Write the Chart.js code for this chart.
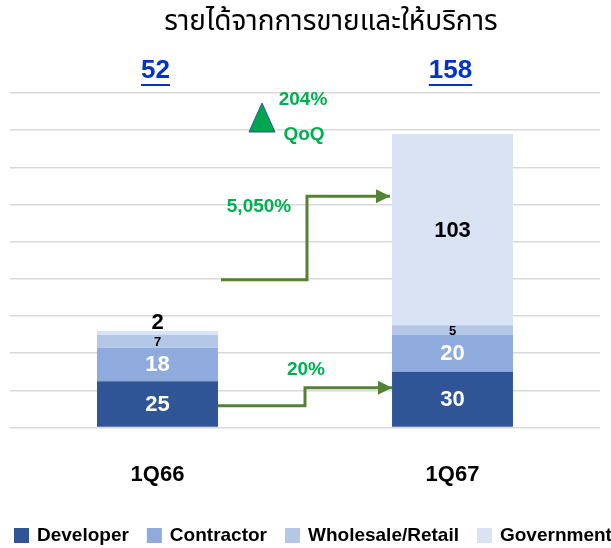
<!DOCTYPE html>
<html lang="th">
<head>
<meta charset="UTF-8">
<title>รายได้จากการขายและให้บริการ</title>
<style>
  body { margin: 0; background: #fff; }
  canvas { display: block; }
</style>
<script src="https://cdn.jsdelivr.net/npm/chart.js"></script>
</head>
<body>
<canvas id="revChart" width="611" height="548"></canvas>
<script>
const categories = ['1Q66', '1Q67'];
const developer = [25, 30];
const contractor = [18, 20];
const wholesale = [7, 5];
const government = [2, 103];
const totals = [52, 158];
const growthLabels = ['20%', '5,050%'];
const qoqLabel = '204%';

const titleText = 'รายได้จากการขายและให้บริการ';
const thaiFont = '"Noto Sans Thai", "Noto Sans", "DejaVu Sans", sans-serif';
const latinFont = '"Liberation Sans", Arial, sans-serif';
const green = '#00B050';
const arrowGreen = '#548235';

// label style per segment: [color, size]
const segStyle = [
  ['#fff', 22],
  ['#fff', 22],
  ['#000', 13],
  ['#000', 22]
];

function drawArrow(ctx, pts) {
  ctx.save();
  ctx.strokeStyle = arrowGreen;
  ctx.fillStyle = arrowGreen;
  ctx.lineWidth = 3;
  ctx.beginPath();
  ctx.moveTo(pts[0][0], pts[0][1]);
  for (let i = 1; i < pts.length; i++) ctx.lineTo(pts[i][0], pts[i][1]);
  ctx.stroke();
  const [ex, ey] = pts[pts.length - 1];
  ctx.beginPath();
  ctx.moveTo(ex, ey);
  ctx.lineTo(ex - 14, ey - 7);
  ctx.lineTo(ex - 14, ey + 7);
  ctx.closePath();
  ctx.fill();
  ctx.restore();
}

const annotations = {
  id: 'annotations',
  afterDatasetsDraw(chart) {
    const { ctx, scales: { y } } = chart;
    const bars = chart.getDatasetMeta(0).data;
    const half = bars[0].width / 2;
    const mid = (bars[0].x + bars[1].x) / 2;

    ctx.save();
    ctx.textAlign = 'center';
    ctx.textBaseline = 'middle';

    // title
    ctx.fillStyle = '#000';
    ctx.font = '28px ' + thaiFont;
    ctx.fillText(titleText, 331, 24);

    // totals
    ctx.font = 'bold 26px ' + latinFont;
    ctx.fillStyle = '#0033CC';
    totals.forEach((t, i) => {
      const x = bars[i].x - 2;
      ctx.fillText(String(t), x, 71);
      const w = ctx.measureText(String(t)).width;
      ctx.fillRect(x - w / 2, 84, w, 2);
    });

    // segment labels
    chart.data.datasets.forEach((ds, di) => {
      const meta = chart.getDatasetMeta(di);
      meta.data.forEach((bar, i) => {
        const v = ds.data[i];
        const [col, size] = segStyle[di];
        ctx.fillStyle = col;
        ctx.font = 'bold ' + size + 'px ' + latinFont;
        let ty = (bar.y + bar.base) / 2 + 1;
        if (bar.base - bar.y < 10 && di === 3) {
          ty = bar.y - 8;
          ctx.font = 'bold 22px ' + latinFont;
        }
        ctx.fillText(String(v), bar.x, ty);
      });
    });

    // arrows
    drawArrow(ctx, [
      [bars[0].x + half, y.getPixelForValue(11.8)],
      [mid, y.getPixelForValue(11.8)],
      [mid, y.getPixelForValue(21.5)],
      [bars[1].x - half, y.getPixelForValue(21.5)]
    ]);
    drawArrow(ctx, [
      [bars[0].x + half + 3, y.getPixelForValue(79.5)],
      [mid + 2, y.getPixelForValue(79.5)],
      [mid + 2, y.getPixelForValue(124.5)],
      [bars[1].x - half - 2, y.getPixelForValue(124.5)]
    ]);

    ctx.fillStyle = green;
    ctx.font = 'bold 19px ' + latinFont;
    ctx.fillText(growthLabels[0], mid + 1, y.getPixelForValue(31));
    ctx.fillText(growthLabels[1], mid - 46, y.getPixelForValue(119));

    // QoQ triangle
    const tx = mid - 43;
    ctx.beginPath();
    ctx.moveTo(tx, 103);
    ctx.lineTo(tx + 13, 132);
    ctx.lineTo(tx - 13, 132);
    ctx.closePath();
    ctx.fillStyle = '#00A550';
    ctx.fill();
    ctx.strokeStyle = '#2F5597';
    ctx.lineWidth = 1;
    ctx.stroke();

    ctx.fillStyle = green;
    ctx.font = 'bold 19px ' + latinFont;
    ctx.fillText(qoqLabel, mid - 2, 100);
    ctx.fillText('QoQ', mid - 1, 135);

    // legend
    ctx.textAlign = 'left';
    ctx.font = 'bold 19px ' + latinFont;
    let lx = 14;
    chart.data.datasets.forEach(ds => {
      ctx.fillStyle = ds.backgroundColor;
      ctx.fillRect(lx, 528, 15, 15);
      ctx.fillStyle = '#000';
      ctx.fillText(ds.label, lx + 23, 536);
      lx += 23 + ctx.measureText(ds.label).width + 18;
    });
    ctx.restore();
  }
};

new Chart(document.getElementById('revChart'), {
  type: 'bar',
  data: {
    labels: categories,
    datasets: [
      { label: 'Developer', data: developer, backgroundColor: '#2F5597' },
      { label: 'Contractor', data: contractor, backgroundColor: '#8FAADC' },
      { label: 'Wholesale/Retail', data: wholesale, backgroundColor: '#B4C7E7' },
      { label: 'Government', data: government, backgroundColor: '#DAE3F3' }
    ]
  },
  options: {
    responsive: false,
    animation: false,
    layout: { padding: { top: 93, left: 10, right: 11, bottom: 26 } },
    datasets: { bar: { categoryPercentage: 1, barPercentage: 0.41 } },
    scales: {
      x: {
        stacked: true,
        grid: { display: false, drawTicks: false },
        border: { display: false },
        ticks: { color: '#000', font: { family: latinFont, size: 22, weight: 'bold' }, padding: 34 }
      },
      y: {
        stacked: true,
        min: 0,
        max: 180,
        ticks: { display: false, stepSize: 20 },
        grid: { color: '#D9D9D9', lineWidth: 1.5, drawTicks: false },
        border: { display: false }
      }
    },
    plugins: {
      tooltip: { enabled: false },
      legend: { display: false }
    }
  },
  plugins: [annotations]
});
</script>
</body>
</html>
